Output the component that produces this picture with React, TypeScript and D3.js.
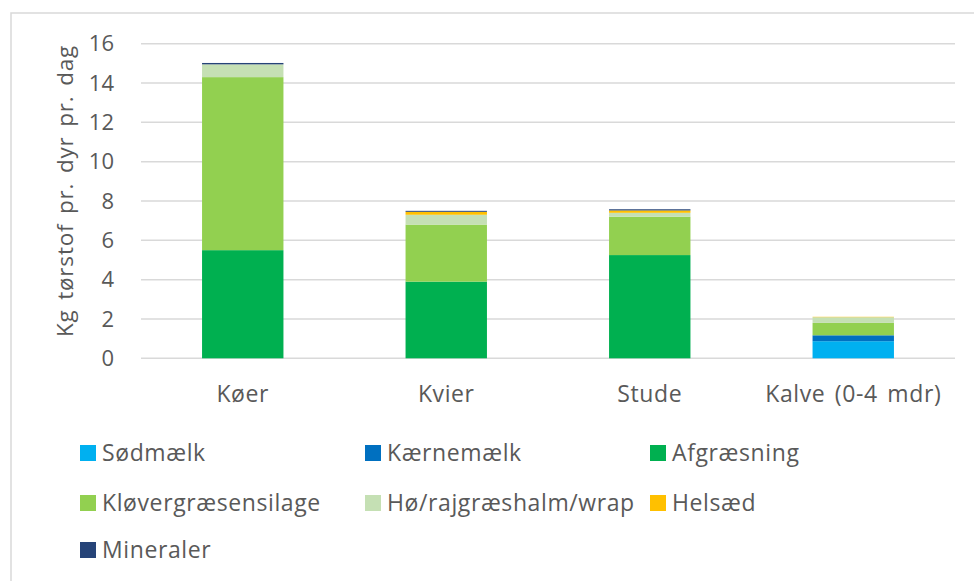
import React from "react";
import * as d3 from "d3";

const categories = ["Køer", "Kvier", "Stude", "Kalve (0-4 mdr)"];
const seriesNames = ["Sødmælk", "Kærnemælk", "Afgræsning", "Kløvergræsensilage", "Hø/rajgræshalm/wrap", "Helsæd", "Mineraler"];
const sodmaelk = [0, 0, 0, 0.87];
const kaernemaelk = [0, 0, 0, 0.3];
const afgraesning = [5.5, 3.9, 5.25, 0];
const klover = [8.8, 2.9, 1.95, 0.63];
const ho = [0.65, 0.5, 0.2, 0.29];
const helsaed = [0, 0.15, 0.12, 0.02];
const mineraler = [0.07, 0.05, 0.06, 0];
const yTicks = [0, 2, 4, 6, 8, 10, 12, 14, 16];
const colors = ["#00b0f0", "#0070c0", "#00b050", "#92d050", "#c5e0b4", "#ffc000", "#264478"];

const seriesValues = [sodmaelk, kaernemaelk, afgraesning, klover, ho, helsaed, mineraler];

export default function App() {
  const W = 974, H = 581;
  const left = 141, right = 955, top = 43.7, bottom = 358.3;
  const font = "'Open Sans', sans-serif";
  const textColor = "#595959";

  const x = d3.scaleBand().domain(categories).range([left, right]).paddingInner(0.6).paddingOuter(0.3);
  const y = d3.scaleLinear().domain([0, 16]).range([bottom, top]);

  const rows = categories.map((c, i) => {
    const r: any = { cat: c };
    seriesNames.forEach((s, j) => (r[s] = seriesValues[j][i]));
    return r;
  });
  const stacked = d3.stack().keys(seriesNames)(rows as any);

  const legendCols = [80, 365, 650];
  const legendRows = [453, 503, 550];

  return (
    <svg width={W} height={H} style={{ position: "absolute", left: 0, top: 0, background: "#fff" }}>
      <rect x={11} y={13} width={W} height={H} fill="#fff" stroke="#d9d9d9" strokeWidth={1.5} />
      {yTicks.map((t) => (
        <g key={t}>
          <line x1={left} x2={right} y1={y(t)} y2={y(t)} stroke="#d9d9d9" strokeWidth={1.5} />
          <text x={114} y={y(t)} dy="0.35em" textAnchor="end" fontFamily={font} fontSize={22} fill={textColor}>
            {t}
          </text>
        </g>
      ))}
      {stacked.map((layer, j) => (
        <g key={seriesNames[j]} fill={colors[j]}>
          {layer.map((d: any, i) => {
            const h = y(d[0]) - y(d[1]);
            if (h <= 0) return null;
            return <rect key={i} x={x(categories[i])} width={x.bandwidth()} y={y(d[1])} height={h} />;
          })}
        </g>
      ))}
      {categories.map((c) => (
        <text key={c} x={(x(c) as number) + x.bandwidth() / 2} y={402} textAnchor="middle" fontFamily={font} fontSize={23} letterSpacing={0.6} wordSpacing={3} fill={textColor}>
          {c}
        </text>
      ))}
      <text transform={`translate(73,191) rotate(-90)`} textAnchor="middle" fontFamily={font} fontSize={22.5} letterSpacing={0.8} wordSpacing={3} fill={textColor}>
        Kg tørstof pr. dyr pr. dag
      </text>
      {seriesNames.map((s, j) => {
        const lx = legendCols[j % 3];
        const ly = legendRows[Math.floor(j / 3)];
        return (
          <g key={s}>
            <rect x={lx} y={ly - 8} width={16} height={16} fill={colors[j]} />
            <text x={lx + 22} y={ly} dy="0.35em" fontFamily={font} fontSize={23} letterSpacing={0.6} fill={textColor}>
              {s}
            </text>
          </g>
        );
      })}
    </svg>
  );
}
